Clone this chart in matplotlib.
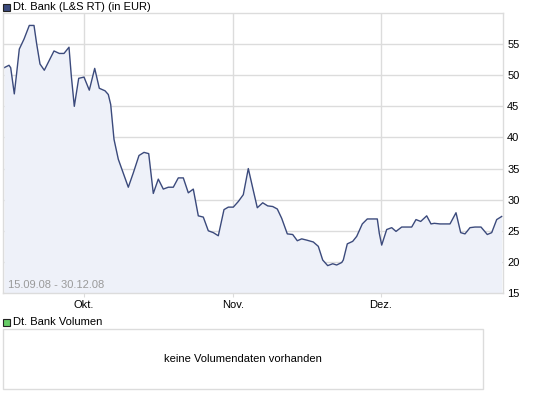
import matplotlib
matplotlib.use("Agg")
import matplotlib.pyplot as plt
from matplotlib.patches import Rectangle

# Kursverlauf Dt. Bank (L&S RT), 15.09.08 - 30.12.08
# t: Position auf der Zeitachse (0 = 15.09.08, 100 = 30.12.08)
t = [0.2, 1.2, 1.54, 2.26, 2.74, 3.26, 4.2, 5.26, 6.2, 6.74,
     7.4, 8.26, 10.2, 11.26, 12.2, 13.2, 13.66, 14.26, 15.14, 16.2,
     17.26, 18.34, 19.26, 20.4, 21.06, 21.54, 22.2, 23.06, 25.06, 26.06,
     27.2, 28.2, 29.14, 30.06, 31.06, 32.06, 33.06, 34.06, 35.06, 36.06,
     37.06, 38.06, 39.06, 40.06, 41.06, 42.06, 43.06, 44.2, 45.06, 46.06,
     47.06, 48.06, 49.06, 49.94, 50.86, 51.94, 52.94, 53.94, 54.86, 55.74,
     56.86, 57.94, 58.86, 59.74, 60.74, 62.06, 63.06, 63.94, 64.94, 65.94,
     66.74, 67.74, 68.06, 68.86, 69.94, 70.74, 71.86, 72.86, 74.86, 75.26,
     75.74, 76.74, 77.74, 78.6, 79.74, 81.74, 82.6, 83.54, 84.74, 85.6,
     86.26, 87.4, 89.4, 90.6, 91.54, 92.4, 93.4, 94.4, 95.6, 96.86,
     97.74, 98.74, 99.74]
kurs = [51.2, 51.6, 51.2, 47.0, 50.4, 54.2, 55.8, 58.0, 58.0, 55.0,
        51.8, 50.8, 53.9, 53.5, 53.5, 54.5, 49.9, 45.0, 49.5, 49.7,
        47.6, 51.1, 47.9, 47.5, 46.9, 45.3, 39.7, 36.5, 32.0, 34.3,
        37.1, 37.6, 37.4, 31.0, 33.3, 31.7, 32.0, 32.0, 33.5, 33.5,
        31.1, 31.7, 27.4, 27.2, 25.0, 24.7, 24.2, 28.4, 28.8, 28.8,
        29.7, 30.8, 35.0, 31.9, 28.7, 29.5, 29.0, 28.9, 28.5, 27.0,
        24.5, 24.4, 23.4, 23.7, 23.5, 23.2, 22.5, 20.3, 19.4, 19.7,
        19.5, 19.9, 20.3, 22.9, 23.3, 24.1, 26.1, 26.9, 26.9, 24.6,
        22.7, 25.2, 25.5, 24.9, 25.6, 25.6, 26.8, 26.5, 27.4, 26.1,
        26.2, 26.1, 26.1, 27.9, 24.7, 24.5, 25.5, 25.6, 25.6, 24.4,
        24.7, 26.8, 27.3]

monate = ["Okt.", "Nov.", "Dez."]
monat_pos = [16.2, 46.0, 75.6]
y_ticks = [15, 20, 25, 30, 35, 40, 45, 50, 55]

titel = "Dt. Bank (L&S RT) (in EUR)"
zeitraum = "15.09.08 - 30.12.08"
vol_titel = "Dt. Bank Volumen"
vol_text = "keine Volumendaten vorhanden"

LINE = "#3b4a7c"
FILL = "#eef1f9"
GRID = "#dcdcdc"
W, H = 545, 398

plt.rcParams["font.family"] = ["Liberation Sans", "DejaVu Sans"]

fig = plt.figure(figsize=(W / 100, H / 100), dpi=100)
fig.patch.set_facecolor("white")


def fx(px):
    return px / W


def fy(py):
    return 1 - py / H


# Kurs-Chart
ax = fig.add_axes([fx(3), fy(293), fx(500), (293 - 13) / H])
ax.fill_between(t, kurs, 15, color=FILL, lw=0)
ax.plot(t, kurs, color=LINE, lw=1.0)
ax.set_xlim(0, 100)
ax.set_ylim(15, 60)
ax.set_yticks(y_ticks)
ax.yaxis.tick_right()
ax.tick_params(axis="y", length=0, labelsize=8, pad=3)
ax.set_xticks(monat_pos)
ax.set_xticklabels(monate)
ax.tick_params(axis="x", length=3, color=GRID, labelsize=8, pad=2)
ax.grid(True, color=GRID, lw=1)
ax.set_axisbelow(True)
for s in ax.spines.values():
    s.set_color(GRID)
    s.set_linewidth(1)
ax.text(0.01, 0.012, zeitraum, transform=ax.transAxes, fontsize=8,
        color="#9a9a9a", ha="left", va="bottom")

# Legende oben
fig.patches.append(Rectangle((fx(3), fy(11)), fx(7), 7 / H, transform=fig.transFigure,
                             facecolor=LINE, edgecolor="#222222", lw=0.8))
fig.text(fx(13), fy(7), titel, fontsize=8, ha="left", va="center")

# Volumen-Bereich
fig.patches.append(Rectangle((fx(3), fy(326)), fx(7), 7 / H, transform=fig.transFigure,
                             facecolor="#66cc66", edgecolor="#222222", lw=0.8))
fig.text(fx(13), fy(322), vol_titel, fontsize=8, ha="left", va="center")
fig.patches.append(Rectangle((fx(3), fy(389)), fx(480), 60 / H, transform=fig.transFigure,
                             facecolor="white", edgecolor=GRID, lw=1))
fig.text(fx(243), fy(359), vol_text, fontsize=8, ha="center", va="center")

fig.savefig("out.png", dpi=100)
